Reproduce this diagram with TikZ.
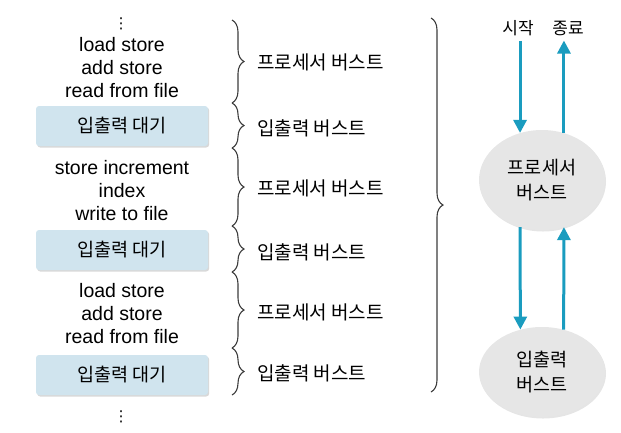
\documentclass[tikz,border=0pt]{standalone}
\usepackage{fontspec}
\setmainfont{Liberation Sans}
\newfontfamily\kr{Noto Sans CJK KR}
\newfontfamily\sym{DejaVu Sans}
\usepackage{xcolor}
\usepackage{tikz}
\usetikzlibrary{arrows.meta,positioning,shapes.geometric,decorations.pathreplacing,shadows}
\definecolor{waitblue}{RGB}{208,228,238}
\definecolor{burstgray}{RGB}{230,230,230}
\definecolor{flowteal}{RGB}{26,156,191}
\definecolor{bracegray}{RGB}{60,60,60}

\begin{document}
\begin{tikzpicture}[
  x=1pt,y=-1pt,
  code/.style={align=center,inner sep=0pt,font=\fontsize{19.5}{23}\selectfont},
  dots/.style={inner sep=0pt,font=\sym\fontsize{15}{15}\selectfont},
  wait/.style={fill=waitblue,rounded corners=3pt,minimum width=172pt,minimum height=40pt,inner sep=0pt,
    font=\kr\fontsize{18.5}{22}\selectfont,drop shadow={shadow xshift=1.2pt,shadow yshift=-1.5pt,fill=black!30}},
  burst/.style={anchor=west,inner sep=0pt,font=\kr\fontsize{19}{22}\selectfont},
  state/.style={ellipse,fill=burstgray,align=center,inner sep=0pt,font=\kr\fontsize{18.5}{25}\selectfont,
    drop shadow={shadow xshift=1pt,shadow yshift=-1.5pt,fill=black!20}},
  endlabel/.style={inner sep=0pt,font=\kr\fontsize{17}{20}\selectfont},
  flow/.style={-{Triangle[length=13pt,width=13pt]},line width=3pt,draw=flowteal},
  brc/.style={decorate,decoration={brace,amplitude=12pt},draw=bracegray,line width=1.1pt}
]
\useasboundingbox (0,0) rectangle (621,432);

% left column: program trace
\node[dots] (dtop) at (121,24) {⋮};
\node[code] (c1) at (122,68) {load store\\add store\\read from file};
\node[wait] (w1) at (122,126) {입출력 대기};
\node[code] (c2) at (122,191) {store increment\\index\\write to file};
\node[wait] (w2) at (122,250) {입출력 대기};
\node[code] (c3) at (122,314) {load store\\add store\\read from file};
\node[wait] (w3) at (122,375) {입출력 대기};
\node[dots] (dbot) at (121,417) {⋮};

% small braces
\coordinate (b0) at (232,20);
\coordinate (b1) at (232,103);
\coordinate (b2) at (232,148);
\coordinate (b3) at (232,226);
\coordinate (b4) at (232,272);
\coordinate (b5) at (232,348);
\coordinate (b6) at (232,395);
\draw[brc] (b0) -- (b1);
\draw[brc] (b1) -- (b2);
\draw[brc] (b2) -- (b3);
\draw[brc] (b3) -- (b4);
\draw[brc] (b4) -- (b5);
\draw[brc] (b5) -- (b6);

\node[burst] (l1) at (257,62) {프로세서 버스트};
\node[burst] (l2) at (257,128) {입출력 버스트};
\node[burst] (l3) at (257,188) {프로세서 버스트};
\node[burst] (l4) at (257,252) {입출력 버스트};
\node[burst] (l5) at (257,312) {프로세서 버스트};
\node[burst] (l6) at (257,373) {입출력 버스트};

% big brace
\coordinate (B0) at (431,18);
\coordinate (B1) at (431,392);
\draw[brc] (B0) -- (B1);

% right: burst cycle
\node[state,minimum width=126pt,minimum height=100pt] (proc) at (542,180) {프로세서\\버스트};
\node[state,minimum width=126pt,minimum height=90pt] (io) at (542,372) {입출력\\버스트};
\node[endlabel] (start) at (518,28) {시작};
\node[endlabel] (stop) at (568,28) {종료};

\draw[flow] ([yshift=-5pt]start.south -| proc.115) -- (proc.115);
\draw[flow] (proc.65) -- ([yshift=-5pt]stop.south -| proc.65);
\draw[flow] (proc.245) -- (io.117);
\draw[flow] (io.63) -- (proc.295);
\end{tikzpicture}
\end{document}
